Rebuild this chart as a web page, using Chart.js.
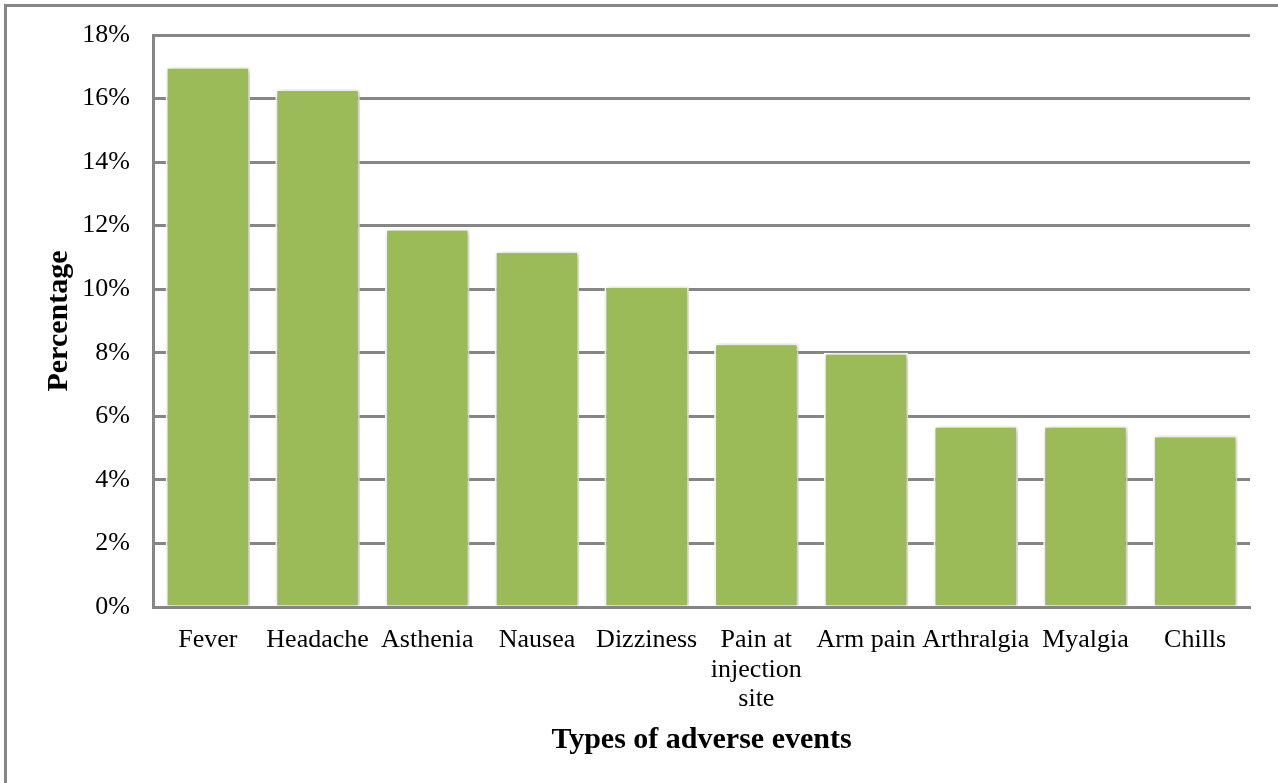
<!DOCTYPE html>
<html>
<head>
<meta charset="utf-8">
<script src="https://cdn.jsdelivr.net/npm/chart.js@4"></script>
<style>
  html, body { margin: 0; padding: 0; background: #ffffff; }
  #wrap { position: relative; width: 1278px; height: 783px; }
</style>
</head>
<body>
<div id="wrap"><canvas id="chart" width="1278" height="783"></canvas></div>
<script>
// Adverse events reported after vaccination (share of reports, %)
const categories = ['Fever', 'Headache', 'Asthenia', 'Nausea', 'Dizziness',
  ['Pain at', 'injection', 'site'], 'Arm pain', 'Arthralgia', 'Myalgia', 'Chills'];
const percentages = [17.0, 16.3, 11.9, 11.2, 10.1, 8.3, 8.0, 5.7, 5.7, 5.4];
const yTicks = [0, 2, 4, 6, 8, 10, 12, 14, 16, 18];

const GRAY = '#868686';
const GREEN = '#9BBB59';
const SERIF = "'Liberation Serif', 'Times New Roman', serif";

// Frame lines along the top and left edge of the figure
const framePlugin = {
  id: 'frame',
  beforeDraw(chart) {
    const ctx = chart.ctx;
    ctx.save();
    ctx.fillStyle = GRAY;
    ctx.fillRect(4, 4, chart.width - 4, 3);
    ctx.fillRect(4, 4, 3, chart.height - 4);
    ctx.restore();
  }
};

// Soft drop shadow behind the columns
const shadowPlugin = {
  id: 'barShadow',
  beforeDatasetsDraw(chart) {
    const ctx = chart.ctx;
    ctx.save();
    ctx.shadowColor = 'rgba(0,0,0,0.28)';
    ctx.shadowBlur = 6;
    ctx.shadowOffsetX = 2;
    ctx.shadowOffsetY = 1;
  },
  afterDatasetsDraw(chart) {
    chart.ctx.restore();
  }
};

new Chart(document.getElementById('chart'), {
  type: 'bar',
  data: {
    labels: categories,
    datasets: [{
      data: percentages,
      backgroundColor: GREEN,
      borderColor: '#ffffff',
      borderWidth: 2,
      categoryPercentage: 1.0,
      barPercentage: 0.77
    }]
  },
  options: {
    responsive: false,
    animation: false,
    layout: { padding: { left: 0, right: 28, top: 35, bottom: 0 } },
    plugins: {
      legend: { display: false },
      tooltip: { enabled: false }
    },
    scales: {
      x: {
        grid: { display: false, drawTicks: false },
        border: { display: true, color: GRAY, width: 3 },
        ticks: {
          autoSkip: false,
          maxRotation: 0,
          minRotation: 0,
          padding: 19,
          color: '#000000',
          font: { family: SERIF, size: 26, lineHeight: 1.12 }
        },
        title: {
          display: true,
          text: 'Types of adverse events',
          color: '#000000',
          font: { family: SERIF, size: 30, weight: 'bold', lineHeight: 1.2 },
          padding: { top: 0, bottom: 25 }
        },
        afterFit(scale) { scale.height = 176; }
      },
      y: {
        min: 0,
        max: 18,
        afterBuildTicks(scale) { scale.ticks = yTicks.map(v => ({ value: v })); },
        // invisible tick marks keep the labels clear of the axis line
        grid: { color: GRAY, lineWidth: 3, drawTicks: true, tickLength: 20, tickColor: 'rgba(0,0,0,0)' },
        border: { display: true, color: GRAY, width: 3 },
        ticks: {
          padding: 3,
          color: '#000000',
          font: { family: SERIF, size: 26 },
          callback: v => v + '%'
        },
        title: {
          display: true,
          text: 'Percentage',
          color: '#000000',
          font: { family: SERIF, size: 30, weight: 'bold', lineHeight: 1.2 },
          padding: { top: 41, bottom: 0 }
        },
        afterFit(scale) { scale.width = 153; }
      }
    }
  },
  plugins: [framePlugin, shadowPlugin]
});
</script>
</body>
</html>
